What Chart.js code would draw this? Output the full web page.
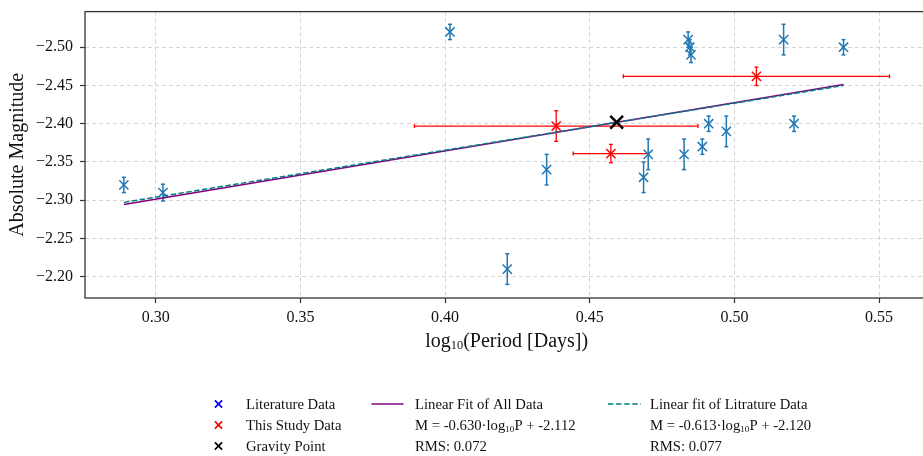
<!DOCTYPE html>
<html>
<head>
<meta charset="utf-8">
<script src="https://cdn.jsdelivr.net/npm/chart.js@4.4.0/dist/chart.umd.min.js"></script>
<style>
  html, body { margin: 0; padding: 0; background: #fff; overflow: hidden; }
  #wrap { width: 940px; height: 456px; }
</style>
</head>
<body>
<div id="wrap"><canvas id="plc" width="940" height="456"></canvas></div>
<script>
// literature data (log10 P, absolute magnitude, error)
const litX = [0.289, 0.3025, 0.4017, 0.4215, 0.4351, 0.4686, 0.4702, 0.4826, 0.4840, 0.4846, 0.4850, 0.4889, 0.4911, 0.4972, 0.5170, 0.5206, 0.5377];
const litY = [-2.32, -2.31, -2.52, -2.21, -2.34, -2.33, -2.36, -2.36, -2.51, -2.50, -2.49, -2.37, -2.40, -2.39, -2.51, -2.40, -2.50];
const litErr = [0.01, 0.011, 0.01, 0.02, 0.02, 0.02, 0.02, 0.02, 0.01, 0.01, 0.01, 0.01, 0.01, 0.02, 0.02, 0.01, 0.01];

// this study
const studyX = [0.4384, 0.4573, 0.5076];
const studyY = [-2.397, -2.361, -2.462];
const studyXErr = [0.049, 0.013, 0.046];
const studyYErr = [0.02, 0.012, 0.012];

// gravity point
const gravityX = [0.4593];
const gravityY = [-2.402];

// fit lines (end points)
const fitX = [0.289, 0.5377];
const fitAllY = [-2.2945, -2.4512];
const fitLitY = [-2.2972, -2.4500];

const xTicks = [0.30, 0.35, 0.40, 0.45, 0.50, 0.55];
const yTicks = [-2.50, -2.45, -2.40, -2.35, -2.30, -2.25, -2.20];

const legendCol1 = ["Literature Data", "This Study Data", "Gravity Point"];
const legendCol2 = [["Linear Fit of All Data"], ["M = -0.630·log", "10", "P + -2.112"], ["RMS: 0.072"]];
const legendCol3 = [["Linear fit of Litrature Data"], ["M = -0.613·log", "10", "P + -2.120"], ["RMS: 0.077"]];

const serif = '"Liberation Serif", "Times New Roman", serif';
const ink = '#111';

const toPts = (xs, ys) => xs.map((x, i) => ({x: x, y: ys[i]}));

// draws text, odd parts as subscripts
function richWidth(ctx, parts, size) {
  let w = 0;
  parts.forEach((t, i) => {
    ctx.font = (i % 2 ? size * 0.62 : size) + 'px ' + serif;
    w += ctx.measureText(t).width;
  });
  return w;
}
function drawRich(ctx, parts, x, y, size) {
  ctx.textBaseline = 'alphabetic';
  ctx.textAlign = 'left';
  parts.forEach((t, i) => {
    const sub = i % 2 === 1;
    ctx.font = (sub ? size * 0.62 : size) + 'px ' + serif;
    ctx.fillText(t, x, y + (sub ? size * 0.12 : 0));
    x += ctx.measureText(t).width;
  });
}

function seg(ctx, x1, y1, x2, y2) {
  ctx.beginPath();
  ctx.moveTo(x1, y1);
  ctx.lineTo(x2, y2);
  ctx.stroke();
}

const errorBars = {
  id: 'errorBars',
  beforeDatasetsDraw(chart) {
    const ctx = chart.ctx, xs = chart.scales.x, ys = chart.scales.y;
    chart.data.datasets.forEach(ds => {
      if (!ds.yErr) return;
      ctx.save();
      ctx.strokeStyle = ds.borderColor;
      ctx.lineWidth = ds.errWidth;
      const cap = 2;
      ds.data.forEach((p, i) => {
        const px = xs.getPixelForValue(p.x), py = ys.getPixelForValue(p.y);
        const y1 = ys.getPixelForValue(p.y - ds.yErr[i]), y2 = ys.getPixelForValue(p.y + ds.yErr[i]);
        seg(ctx, px, y1, px, y2);
        seg(ctx, px - cap, y1, px + cap, y1);
        seg(ctx, px - cap, y2, px + cap, y2);
        if (ds.xErr) {
          const x1 = xs.getPixelForValue(p.x - ds.xErr[i]), x2 = xs.getPixelForValue(p.x + ds.xErr[i]);
          seg(ctx, x1, py, x2, py);
          seg(ctx, x1, py - cap, x1, py + cap);
          seg(ctx, x2, py - cap, x2, py + cap);
        }
      });
      ctx.restore();
    });
  }
};

function crossMark(ctx, x, y, r, color, w) {
  ctx.save();
  ctx.strokeStyle = color;
  ctx.lineWidth = w;
  seg(ctx, x - r, y - r, x + r, y + r);
  seg(ctx, x - r, y + r, x + r, y - r);
  ctx.restore();
}

const decorations = {
  id: 'decorations',
  afterDraw(chart) {
    const ctx = chart.ctx, a = chart.chartArea;
    ctx.save();
    // frame
    ctx.strokeStyle = '#333';
    ctx.lineWidth = 1.3;
    ctx.strokeRect(a.left, a.top, a.right - a.left, a.bottom - a.top);

    ctx.fillStyle = ink;
    // y title
    ctx.save();
    ctx.translate(18, (a.top + a.bottom) / 2);
    ctx.rotate(-Math.PI / 2);
    ctx.font = '20px ' + serif;
    ctx.textAlign = 'center';
    ctx.textBaseline = 'middle';
    ctx.fillText('Absolute Magnitude', 0, 0);
    ctx.restore();

    // x title
    const xt = ['log', '10', '(Period [Days])'];
    const xw = richWidth(ctx, xt, 20);
    drawRich(ctx, xt, (a.left + a.right) / 2 - xw / 2, 347, 20);

    // legend
    const rows = [404, 425, 446];
    const markColors = ['#0000ff', '#ff0000', '#000000'];
    rows.forEach((ry, i) => {
      crossMark(ctx, 218.5, ry, 3.6, markColors[i], 1.7);
      ctx.fillStyle = ink;
      drawRich(ctx, [legendCol1[i]], 246, ry + 5, 14.7);
      drawRich(ctx, legendCol2[i], 415, ry + 5, 14.7);
      drawRich(ctx, legendCol3[i], 650, ry + 5, 14.7);
    });
    ctx.strokeStyle = '#800080';
    ctx.lineWidth = 1.6;
    seg(ctx, 371.5, rows[0], 403.5, rows[0]);
    ctx.strokeStyle = '#008080';
    ctx.setLineDash([5.5, 2.6]);
    seg(ctx, 608, rows[0], 641, rows[0]);
    ctx.restore();
  }
};

// stop the scales from adding label padding round the plot area
function noPad(s) {
  s.paddingTop = 0; s.paddingBottom = 0; s.paddingLeft = 0; s.paddingRight = 0;
}

new Chart(document.getElementById('plc'), {
  type: 'scatter',
  data: {
    datasets: [
      {
        label: 'Gravity Point', data: toPts(gravityX, gravityY), order: 0,
        pointStyle: 'crossRot', pointRadius: 9, borderColor: '#000', borderWidth: 2.6
      },
      {
        label: 'Linear fit of Litrature Data', type: 'line', data: toPts(fitX, fitLitY), order: 1,
        borderColor: '#008080', borderWidth: 1.5, borderDash: [5.5, 2.4], pointRadius: 0, fill: false
      },
      {
        label: 'Linear Fit of All Data', type: 'line', data: toPts(fitX, fitAllY), order: 2,
        borderColor: '#800080', borderWidth: 1.5, pointRadius: 0, fill: false
      },
      {
        label: 'This Study Data', data: toPts(studyX, studyY), order: 3,
        pointStyle: 'crossRot', pointRadius: 6.5, borderColor: '#ff0000', borderWidth: 1.5,
        xErr: studyXErr, yErr: studyYErr, errWidth: 1.3
      },
      {
        label: 'Literature Data', data: toPts(litX, litY), order: 4,
        pointStyle: 'crossRot', pointRadius: 6.5, borderColor: '#1f77b4', borderWidth: 1.5,
        yErr: litErr, errWidth: 1.5
      }
    ]
  },
  options: {
    responsive: false,
    animation: false,
    devicePixelRatio: 1,
    layout: { padding: { top: 11, right: 8, left: 0, bottom: 0 } },
    plugins: { legend: { display: false }, tooltip: { enabled: false } },
    scales: {
      x: {
        type: 'linear',
        min: 0.27557,
        max: 0.56703,
        afterBuildTicks: s => { s.ticks = xTicks.map(v => ({value: v})); },
        afterFit: s => { s.height = 158; noPad(s); },
        grid: { color: '#d4d4d4', lineWidth: 1, tickColor: '#333', tickLength: 5, tickWidth: 1.2 },
        border: { display: false, dash: [4, 3] },
        ticks: {
          color: ink, padding: 5, maxRotation: 0,
          font: { family: serif, size: 16 },
          callback: v => v.toFixed(2)
        }
      },
      y: {
        type: 'linear',
        reverse: true,
        min: -2.5466,
        max: -2.1722,
        afterBuildTicks: s => { s.ticks = yTicks.map(v => ({value: v})); },
        afterFit: s => { s.width = 85; noPad(s); },
        grid: { color: '#d4d4d4', lineWidth: 1, tickColor: '#333', tickLength: 5, tickWidth: 1.2 },
        border: { display: false, dash: [4, 3] },
        ticks: {
          color: ink, padding: 7,
          font: { family: serif, size: 16 },
          callback: v => v.toFixed(2).replace('-', '\u2212')
        }
      }
    }
  },
  plugins: [errorBars, decorations]
});
</script>
</body>
</html>
